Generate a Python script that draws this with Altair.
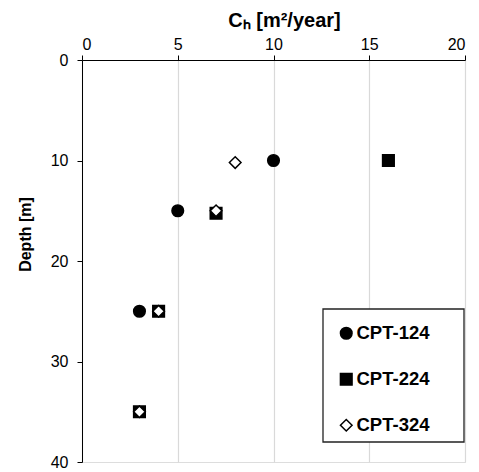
import altair as alt
import pandas as pd

series_names = ["CPT-124", "CPT-224", "CPT-324"]

cpt124_ch = [10, 5, 3]
cpt124_depth = [10, 15, 25]

cpt224_ch = [16, 7, 4, 3]
cpt224_depth = [10, 15.25, 25, 35]

cpt324_ch = [8, 7, 4, 3]
cpt324_depth = [10.2, 15, 25, 35]

x_ticks = [0, 5, 10, 15, 20]
y_ticks = [0, 10, 20, 30, 40]

rows = []
for order, (name, xs, ys) in enumerate(zip(series_names,
                                           [cpt124_ch, cpt224_ch, cpt324_ch],
                                           [cpt124_depth, cpt224_depth, cpt324_depth])):
    for xv, yv in zip(xs, ys):
        rows.append({"series": name, "ch": xv, "depth": yv, "order": order})
df = pd.DataFrame(rows)

FONT = "Liberation Sans"
NB = "\u00a0"

legend = alt.Legend(
    title=None, orient="none", legendX=255, legendY=264,
    padding=0, rowPadding=27, labelFontSize=18.5, labelFont=FONT,
    labelFontWeight="bold", labelColor="black", symbolSize=85,
    symbolStrokeColor="black", symbolStrokeWidth=1.5, labelOffset=1,
)

x_enc = alt.X("ch:Q", scale=alt.Scale(domain=[0, 20], nice=False),
              axis=alt.Axis(orient="top", values=x_ticks, title="Cₕ" + NB + "[m²/year]",
                            grid=True, gridColor="#d9d9d9", gridWidth=1.2,
                            domainColor="black", tickColor="black", tickSize=5,
                            labelFont=FONT, labelFontSize=16, labelColor="black",
                            labelPadding=3,
                            titleFont=FONT, titleFontSize=20, titleFontWeight="bold",
                            titleColor="black", titleX=202, titleY=-40,
                            titleBaseline="middle"))
y_enc = alt.Y("depth:Q", scale=alt.Scale(domain=[0, 40], reverse=True, nice=False),
              axis=alt.Axis(orient="left", values=y_ticks, title="Depth [m]",
                            grid=False, domainColor="black", tickColor="black",
                            tickSize=5, labelFont=FONT, labelFontSize=16,
                            labelColor="black", labelPadding=9,
                            titleFont=FONT, titleFontSize=16, titleFontWeight="bold",
                            titleColor="black", titleX=-57, titleY=174,
                            titleAngle=-90, titleBaseline="middle", titleAlign="center"))

points = alt.Chart(df).mark_point(filled=True, stroke="black", strokeWidth=1.5, opacity=1).encode(
    x=x_enc,
    y=y_enc,
    shape=alt.Shape("series:N", scale=alt.Scale(domain=series_names,
                                                range=["circle", "square", "diamond"]),
                    legend=legend),
    color=alt.Color("series:N", scale=alt.Scale(domain=series_names,
                                                range=["black", "black", "white"]),
                    legend=legend),
    size=alt.Size("series:N", scale=alt.Scale(domain=series_names, range=[135, 135, 150]),
                  legend=None),
    order=alt.Order("order:Q"),
)

legend_frame = alt.Chart(pd.DataFrame({"k": [0]})).mark_rect(
    fill="white", stroke="#222222", strokeWidth=1.3
).encode(
    x=alt.value(241), x2=alt.value(382), y=alt.value(249), y2=alt.value(382)
)

chart = alt.layer(points, legend_frame).properties(
    width=383, height=402,
    autosize=alt.AutoSizeParams(type="none"),
    padding={"left": 74, "top": 52, "right": 4, "bottom": 10},
).configure_view(stroke="black", strokeWidth=1.2).configure(background="white")

chart.save("out.html", embed_options={"renderer": "svg", "actions": False})
